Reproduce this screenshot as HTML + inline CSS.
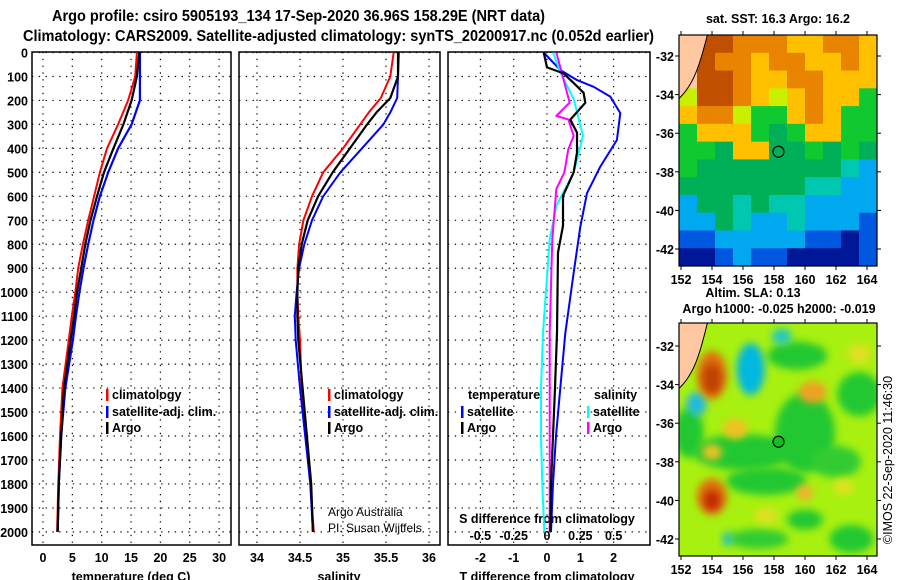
<!DOCTYPE html>
<html><head><meta charset="utf-8">
<style>
html,body{margin:0;padding:0;background:#fff;}
svg{display:block;font-family:"Liberation Sans",sans-serif;}
.b{font-weight:bold;font-size:12.5px;}
</style></head>
<body>
<svg id="chart" width="900" height="580" viewBox="0 0 900 580">
<defs>
<filter id="blur" x="-50%" y="-50%" width="200%" height="200%"><feGaussianBlur stdDeviation="4"/></filter>
<clipPath id="clipTop"><rect x="679" y="35" width="198" height="231"/></clipPath>
<clipPath id="clipBot"><rect x="679" y="323" width="198" height="233"/></clipPath>
<clipPath id="clipP1"><rect x="32" y="52" width="199" height="493"/></clipPath>
<clipPath id="clipP2"><rect x="239" y="52" width="201" height="493"/></clipPath>
<clipPath id="clipP3"><rect x="448" y="52" width="202" height="493"/></clipPath>
</defs>
<text x="52" y="21" font-size="15.5" font-weight="bold" textLength="493" lengthAdjust="spacingAndGlyphs">Argo profile: csiro 5905193_134 17-Sep-2020 36.96S 158.29E (NRT data)</text>
<text x="23" y="41" font-size="15.5" font-weight="bold" textLength="631" lengthAdjust="spacingAndGlyphs">Climatology: CARS2009. Satellite-adjusted climatology: synTS_20200917.nc (0.052d earlier)</text>
<g id="plots"></g>
<g id="maps"></g>
</svg>
<script>
// ---- profile data ----
const depthT = [0,100,200,300,400,500,600,700,800,900,1000,1100,1200,1400,1600,1800,2000];
const tempClim = [16.0,15.7,14.5,12.8,10.9,9.7,8.7,7.7,6.8,6.0,5.5,4.9,4.4,3.3,2.9,2.6,2.4];
const tempSat = [16.5,16.5,16.5,15.1,12.8,11.1,9.7,8.6,7.7,6.9,6.2,5.6,5.1,3.8,3.1,2.7,2.5];
const tempArgo = [16.4,16.0,15.1,13.7,12.0,10.4,9.2,8.1,7.2,6.5,5.8,5.3,4.7,3.6,3.1,2.7,2.5];
const depthS = [0,100,190,250,300,400,500,600,700,800,900,1000,1100,1200,1400,1600,1800,2000];
const salClim = [35.59,35.55,35.44,35.30,35.20,35.00,34.77,34.64,34.54,34.49,34.47,34.47,34.48,34.50,34.52,34.57,34.62,34.66];
const salSat = [35.65,35.64,35.63,35.55,35.47,35.22,34.97,34.77,34.64,34.55,34.49,34.46,34.44,34.45,34.50,34.56,34.62,34.65];
const salArgo = [35.64,35.64,35.55,35.39,35.28,35.08,34.88,34.71,34.59,34.52,34.48,34.47,34.47,34.48,34.53,34.58,34.63,34.65];
const depthD = [0,73,115,143,184,253,365,476,587,727,921,1171,1400,1600,1800,2000];
const dTSat = [-0.1,0.4,0.9,1.4,1.9,2.2,2.1,1.6,1.2,1.0,0.8,0.55,0.4,0.27,0.18,0.12];
const depthDA = [0,62,87,127,168,210,280,334,418,501,598,723,834,1168,1400,1600,1800,2000];
const dTArgo = [-0.1,0,0.5,0.8,1.1,1.15,0.7,0.9,0.9,0.8,0.48,0.48,0.33,0.3,0.24,0.18,0.12,0.1];
const depthDS = [0,83,194,347,501,640,779,1168,1400,1600,1800,2000];
const dSSat = [0.045,0.1,0.2,0.27,0.2,0.07,0.02,-0.03,-0.045,-0.045,-0.035,-0.02];
const depthDM = [0,83,168,209,265,279,348,404,501,570,779,1168,1400,1600,1800,2000];
const dSArgo = [0.07,0.11,0.15,0.17,0.07,0.16,0.2,0.16,0.13,0.07,0.04,0.02,0.02,0.02,0.02,0.02];
const depthTicks = [0,100,200,300,400,500,600,700,800,900,1000,1100,1200,1300,1400,1500,1600,1700,1800,1900,2000];
const tempTicks = [0,5,10,15,20,25,30];
const salTicks = [34,34.5,35,35.5,36];
const dTTicks = [-2,-1,0,1,2];
const dSTickLabels = ["-0.5","-0.25","0","0.25","0.5"];
const dSTicks = [-0.5,-0.25,0,0.25,0.5];

const NS="http://www.w3.org/2000/svg";
function mk(tag, attrs, parent){const e=document.createElementNS(NS,tag);for(const k in attrs)e.setAttribute(k,attrs[k]);parent.appendChild(e);return e;}
const yD = d => 52.5 + d*0.2397;
const xT = t => 43 + t*5.87;
const xS = s => 257 + (s-34)*86;
const xDT = t => 547 + t*33.3;
const xDS = s => 547 + s*133.3;
const plots=document.getElementById('plots');

function frame(x0,x1,name,xt,xf){
  const g=mk('g',{},plots);
  
  
  depthTicks.forEach(d=>{const l=mk('line',{x1:x0,x2:x1,y1:yD(d),y2:yD(d),stroke:'#000','stroke-width':1.2,'stroke-dasharray':'1.3 5.5'},g);
    });
  xt.forEach(v=>{const l=mk('line',{x1:xf(v),x2:xf(v),y1:52,y2:545,stroke:'#000','stroke-width':1.2,'stroke-dasharray':'1.3 5.5'},g);
    });
  const r=mk('rect',{x:x0,y:52,width:x1-x0,height:493,fill:'none',stroke:'#000','stroke-width':1.5},g);
  
  return g;
}
function line(xs,ds,xf,color,w,clip,name){
  const pts=xs.map((v,i)=>xf(v).toFixed(1)+','+yD(ds[i]).toFixed(1)).join(' ');
  const p=mk('polyline',{points:pts,fill:'none',stroke:color,'stroke-width':w,'clip-path':'url(#'+clip+')','stroke-linejoin':'round'},plots);
  
}
function txt(x,y,s,cls,anchor,name,extra){
  const t=mk('text',Object.assign({x:x,y:y,'text-anchor':anchor||'start'},extra||{}),plots);
  if(cls)t.setAttribute('class',cls);t.textContent=s;
  return t;
}
frame(32,231,'temperature-panel',tempTicks,xT);
frame(239,440,'salinity-panel',salTicks,xS);
frame(448,650,'difference-panel',dTTicks,xDT);
depthTicks.forEach(d=>txt(28,yD(d)+5,String(d),'b','end','depth-tick-label'));
tempTicks.forEach(v=>txt(xT(v),562,String(v),'b','middle','temp-tick-label'));
salTicks.forEach(v=>txt(xS(v),562,String(v),'b','middle','sal-tick-label'));
dTTicks.forEach(v=>txt(xDT(v),562,String(v),'b','middle','tdiff-tick-label'));
dSTicks.forEach((v,i)=>txt(xDS(v),540,dSTickLabels[i],'b','middle','sdiff-tick-label'));
txt(131,581,'temperature (deg C)','b','middle','x-axis-title-temperature');
txt(339,581,'salinity','b','middle','x-axis-title-salinity');
txt(547,581,'T difference from climatology','b','middle','x-axis-title-tdiff');
txt(547,523,'S difference from climatology','b','middle','x-axis-title-sdiff');
txt(328,516,'Argo Australia','','start','credit-line-1',{'font-size':'12'});
txt(328,532,'PI: Susan Wijffels','','start','credit-line-2',{'font-size':'12'});
line(tempClim,depthT,xT,'#f00',2,'clipP1','temp-climatology-line');
line(tempSat,depthT,xT,'#00f',2.2,'clipP1','temp-satellite-line');
line(tempArgo,depthT,xT,'#000',2.2,'clipP1','temp-argo-line');
line(salClim,depthS,xS,'#f00',2,'clipP2','sal-climatology-line');
line(salSat,depthS,xS,'#00f',2,'clipP2','sal-satellite-line');
line(salArgo,depthS,xS,'#000',2.2,'clipP2','sal-argo-line');
line(dTSat,depthD,xDT,'#00f',2,'clipP3','tdiff-satellite-line');
line(dSSat,depthDS,xDS,'#0ff',2,'clipP3','sdiff-satellite-line');
line(dSArgo,depthDM,xDS,'#f0f',2,'clipP3','sdiff-argo-line');
line(dTArgo,depthDA,xDT,'#000',2.2,'clipP3','tdiff-argo-line');
function leg(x,y,c,s,name){const r=mk('rect',{x:x,y:y-10,width:2.5,height:12,fill:c},plots);
  
  txt(x+6,y,s,'b','start',name);}
leg(106,399,'#f00','climatology','legend-climatology');
leg(106,416,'#00f','satellite-adj. clim.','legend-satellite');
leg(106,432,'#000','Argo','legend-argo');
leg(328,399,'#f00','climatology','legend2-climatology');
leg(328,416,'#00f','satellite-adj. clim.','legend2-satellite');
leg(328,432,'#000','Argo','legend2-argo');
txt(468,399,'temperature','b','start','legend3-temperature-heading');
txt(594,399,'salinity','b','start','legend3-salinity-heading');
leg(461,416,'#00f','satellite','legend3-t-satellite');
leg(461,432,'#000','Argo','legend3-t-argo');
leg(587,416,'#0ff','satellite','legend3-s-satellite');
leg(587,432,'#f0f','Argo','legend3-s-argo');

// ---- maps ----
const maps=document.getElementById('maps');
const sstRows=[
"LDDOOOYYOOY","LDOOYOOYYOY","LDDOYYOOYYY","yDDOYyYOYYG","YOOyGGYOYGG",
"GYYYGgGYYGG","GGgYYggGgGg","GggggggggcC","gggggggccCC","CggcgccCCCC",
"CCgcCCcCCCB","BBCCCCCBBNB","NNBCBBNNNNB"];
const sstColors={L:'#ffc8a0',D:'#c05000',O:'#e88400',Y:'#ffc000',y:'#c8f000',G:'#10c830',g:'#00b058',c:'#00c8b0',C:'#00a8f0',B:'#0058e0',N:'#001898'};
const lonTicks=[152,154,156,158,160,162,164];
const latTicks=[-32,-34,-36,-38,-40,-42];
const floatLon=158.29, floatLat=-36.96;
const mx = lon => 681 + (lon-152)*15.5;
const myTop = lat => 56 + (-32-lat)*19.3;
const myBot = lat => 346 + (-32-lat)*19.3;

const gt=mk('g',{'clip-path':'url(#clipTop)'},maps);

const cw=198/11, ch=231/13;
sstRows.forEach((row,r)=>{for(let c=0;c<row.length;c++){
  const e=mk('rect',{x:679+c*cw,y:35+r*ch,width:cw+0.5,height:ch+0.5,fill:sstColors[row[c]]},gt);
  }});
const gb=mk('g',{'clip-path':'url(#clipBot)'},maps);

mk('rect',{x:679,y:323,width:198,height:233,fill:'#a8f010'},gb);
const blobs=[
[156,-37.5,50,18,'#20c830'],[157.5,-39,40,14,'#20c830'],[160,-36.5,30,40,'#20c830'],[162,-38,25,16,'#30cc30'],[157,-42,30,10,'#30cc30'],[163,-42,22,14,'#20c830'],
[159.5,-32.5,30,14,'#20c830'],[163.5,-34.5,22,22,'#20c830'],[152.5,-36.5,15,25,'#20c830'],[160,-41,18,10,'#20c830'],
[156.5,-33.2,14,26,'#00b8e0'],[153,-35,10,12,'#20b8e0'],[158.5,-31.5,10,8,'#20c8c0'],[155,-42,5,7,'#20c0c0'],
[154,-33.5,15,24,'#e07010'],[154,-33.7,9,15,'#c04000'],[154,-39.8,15,18,'#e07010'],[154,-40,8,10,'#c02800'],[160.5,-34.4,14,11,'#f0a020'],[155.5,-36.3,12,10,'#f0c020'],
[154,-37.5,10,8,'#f0c020'],[160,-39.6,8,8,'#f0b030'],[162.5,-39.3,10,8,'#e0e020'],[163.5,-32.4,12,10,'#e0e020'],[157.5,-40.8,12,8,'#e0e020']];
blobs.forEach(b=>{const e=mk('ellipse',{cx:mx(b[0]),cy:myBot(b[1]),rx:b[2],ry:b[3],fill:b[4],filter:'url(#blur)'},gb);
  });
[['top',myTop,35,266],['bot',myBot,323,556]].forEach(([nm,my,y0,y1])=>{
  const g=mk('g',{},maps);
  mk('path',{d:`M679 ${y0} L${mx(153.7)} ${y0} C${mx(153.2)} ${my(-32.5)} ${mx(152.8)} ${my(-33.5)} 679 ${my(-34.2)} Z`,fill:'#ffc8a0',stroke:'#000','stroke-width':1},g);
  const c=mk('circle',{cx:mx(floatLon),cy:my(floatLat),r:5.5,fill:nm==='bot'?'#10c020':'none',stroke:'#000','stroke-width':1.2},g);
  
  mk('rect',{x:679,y:y0,width:198,height:y1-y0,fill:'none',stroke:'#000','stroke-width':1.2},g);
  lonTicks.forEach(l=>{mk('line',{x1:mx(l),x2:mx(l),y1:y1,y2:y1+4,stroke:'#000'},g);mk('line',{x1:mx(l),x2:mx(l),y1:y0,y2:y0-4,stroke:'#000'},g);
    const t=mk('text',{x:mx(l),y:y1+18,'text-anchor':'middle',class:'b'},g);t.textContent=l;
    });
  latTicks.forEach(l=>{mk('line',{x1:675,x2:679,y1:my(l),y2:my(l),stroke:'#000'},g);mk('line',{x1:877,x2:881,y1:my(l),y2:my(l),stroke:'#000'},g);
    const t=mk('text',{x:674,y:my(l)+5,'text-anchor':'end',class:'b'},g);t.textContent=l;
    });
});
function mtxt(x,y,s,name,extra){const t=mk('text',Object.assign({x:x,y:y,'text-anchor':'middle',class:'b'},extra||{}),maps);t.textContent=s;
  }
mtxt(778,23,'sat. SST: 16.3 Argo: 16.2','sst-map-title');
mtxt(753,297,'Altim. SLA: 0.13','sla-value-label');
mtxt(779,313,'Argo h1000: -0.025 h2000: -0.019','sla-map-title');
mtxt(892,460,'©IMOS 22-Sep-2020 11:46:30','timestamp-credit',{transform:'rotate(-90 892 460)',class:'', 'font-size':'12.5'});
</script>
</body></html>
